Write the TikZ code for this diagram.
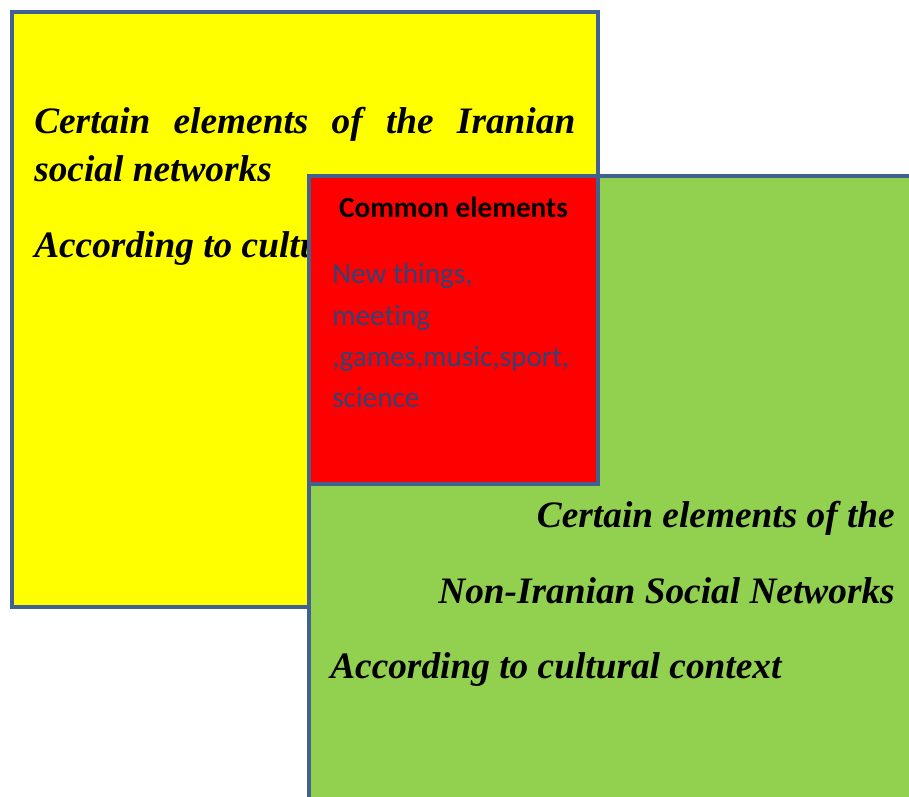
\documentclass[tikz,border=0pt]{standalone}
\usepackage{fontspec}
\setmainfont{Liberation Serif}
\newfontfamily\calibrifont[Ligatures=NoCommon]{Carlito}
\usetikzlibrary{positioning}
\definecolor{boxedge}{HTML}{41628E}
\definecolor{leafgreen}{HTML}{92D050}
\definecolor{sunyellow}{HTML}{FFFF00}
\definecolor{inkblue}{HTML}{2F4476}
\tikzset{
  panel/.style={draw=boxedge, line width=3.6pt},
  bigtext/.style={font=\fontsize{28}{33}\selectfont\bfseries\itshape, inner sep=0pt},
  headtext/.style={font=\calibrifont\fontsize{21.9}{26}\selectfont\bfseries, inner sep=0pt},
  listtext/.style={font=\calibrifont\fontsize{21.9}{26}\selectfont, text=inkblue, inner sep=0pt, anchor=base west}
}

\begin{document}
\begin{tikzpicture}[x=0.75pt,y=-0.75pt]
\useasboundingbox (0,0) rectangle (909,796);
\clip (0,0) rectangle (909,796);

% iranian networks
\filldraw [panel, fill=sunyellow] (12,12) rectangle (598,607);
\node [bigtext, anchor=base west] (ir1) at (34,133) {\makebox[405.75pt][s]{Certain elements of the Iranian}};
\node [bigtext, anchor=base west] (ir2) at (34,181) {social networks};
\node [bigtext, anchor=base west] (ir3) at (34,257) {According to cultural context};

% non-iranian networks
\filldraw [panel, fill=leafgreen] (309,176) rectangle (950,840);
\node [bigtext, anchor=base east] (ni1) at (895,527) {Certain elements of the};
\node [bigtext, anchor=base east] (ni2) at (895,603) {Non-Iranian Social Networks};
\node [bigtext, anchor=base west] (ni3) at (330,678) {According to cultural context};

% overlap
\filldraw [panel, fill=red] (309,176) rectangle (598,484);
\node [headtext, anchor=base] (common) at (453.5,217) {Common elements};
\node [listtext] (c1) at (332,283) {New things,};
\node [listtext] (c2) at (332,325) {meeting};
\node [listtext] (c3) at (332,366) {,games,music,sport,};
\node [listtext] (c4) at (332,407) {science};
\end{tikzpicture}
\end{document}
